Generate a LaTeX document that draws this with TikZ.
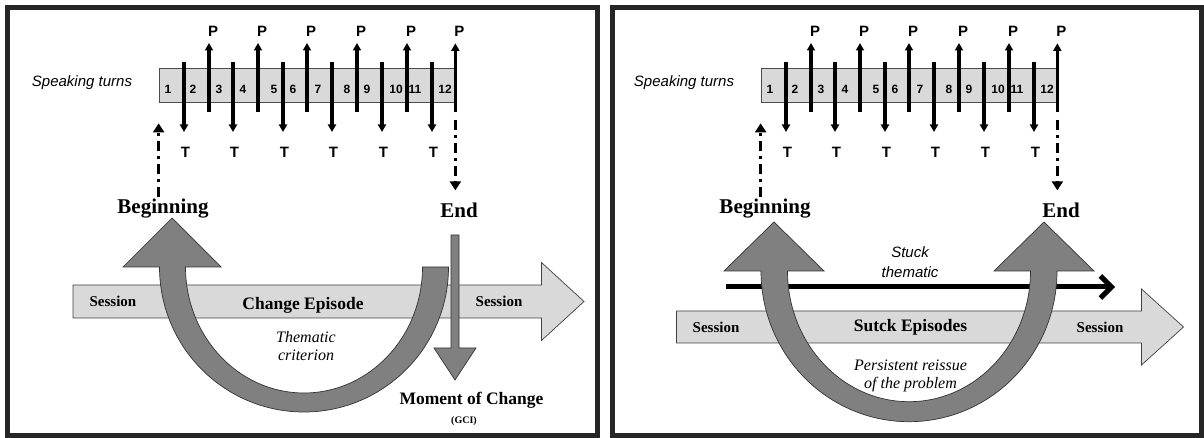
\documentclass[tikz,border=0pt]{standalone}
\usepackage{fontspec}
\setmainfont{Liberation Serif}
\setsansfont{Liberation Sans}
\usetikzlibrary{arrows.meta}
\tikzset{
  panel/.style={draw=black!85, line width=4.5pt},
  turnbar/.style={draw=black!70, fill=black!15, line width=0.7pt, minimum width=296pt, minimum height=34pt, inner sep=0pt},
  turnarrow/.style={line width=3.1pt, -{Triangle[length=7.5pt,width=8pt]}},
  cuearrow/.style={line width=3.2pt, dash pattern=on 10pt off 5pt on 3pt off 5pt, -{Triangle[length=9pt,width=11pt]}},
  sessionarrow/.style={draw=black!75, fill=black!15, line width=0.7pt},
  bigshape/.style={draw=black!80, fill=black!50, line width=0.7pt},
  stuckarrow/.style={line width=5pt, -{Straight Barb[length=11pt,width=22pt]}},
  numlabel/.style={font=\sffamily\bfseries\fontsize{12}{14}\selectfont},
  rolelabel/.style={font=\sffamily\bfseries\fontsize{15}{17}\selectfont},
  sanslabel/.style={font=\sffamily\itshape\fontsize{15}{20}\selectfont, align=center},
  marklabel/.style={font=\bfseries\fontsize{21}{23}\selectfont},
  sesslabel/.style={font=\bfseries\fontsize{15}{17}\selectfont},
  episodelabel/.style={font=\bfseries\fontsize{17.5}{19}\selectfont},
  notelabel/.style={font=\itshape\fontsize{16}{18}\selectfont, align=center},
}
\begin{document}
\begin{tikzpicture}[x=1pt,y=1pt]
\useasboundingbox (0,0) rectangle (1204,438);
\draw[panel] (7.5,2.5) rectangle (597.5,430.5);
\draw[panel] (612.5,2.5) rectangle (1201.5,430.5);
\foreach \dx/\s in {0/l,602/r}{
\begin{scope}[xshift=\dx]
\node[sanslabel] (speak\s) at (82,355) {Speaking turns};
\node[turnbar] (bar\s) at (307,353) {};
\foreach \n/\x in {1/168,2/193,3/219,4/243,5/274,6/293,7/318,8/347,9/367,10/396,11/415,12/445}
  \node[numlabel] (num\s\n) at (\x,349) {\n};
\foreach \x in {184,233,283,332,382,432}
  \draw[turnarrow] (\x,376)--(\x,306) node[rolelabel, below=10pt, xshift=1.5pt] (t\s\x) {T};
\foreach \x in {209,258,307,357,407}
  \draw[turnarrow] (\x,326)--(\x,395) node[rolelabel, above=1.5pt, xshift=4pt] (p\s\x) {P};
\draw[turnarrow] (bar\s.south east) ++(0,-10)--++(0,69) node[rolelabel, above=1.5pt, xshift=4pt] (plast\s) {P};
\draw[cuearrow] (bar\s.south west) ++(0,-95)--++(0,74);
\draw[cuearrow] (bar\s.south east) ++(0,-18)--++(0,-70);
\node[marklabel] (beg\s) at (163,229) {Beginning};
\node[marklabel] (end\s) at (459,228) {End};
\end{scope}
}
\draw[sessionarrow] (73,120)--(541.5,120)--(541.5,97.5)--(584,136.5)--(541.5,175.5)--(541.5,153)--(73,153)--cycle;
\draw[bigshape] (448.5,171) arc[start angle=0, end angle=-180, x radius=144.5, y radius=145]--(123,171)--(172,220)--(221,171)--(185.5,171) arc[start angle=180, end angle=360, x radius=118.5, y radius=126]--cycle;
\draw[bigshape] (451,203)--(459,203)--(459,90)--(476,90)--(455,58)--(434,90)--(451,90)--cycle;
\node[sesslabel] (sessla) at (113,137) {Session};
\node[episodelabel] (changeep) at (303,133) {Change Episode};
\node[sesslabel] (sesslb) at (499,137) {Session};
\node[notelabel] (thematic) at (306,92) {Thematic\\criterion};
\node[episodelabel] (moment) at (471.5,38) {Moment of Change};
\node[font=\bfseries\fontsize{10}{12}\selectfont] (gci) at (464,17) {(GCI)};
\draw[sessionarrow] (676.5,95)--(1141.5,95)--(1141.5,73)--(1183.5,111)--(1141.5,149)--(1141.5,127)--(676.5,127)--cycle;
\coordinate (stuckfrom) at (726,151);
\coordinate (stuckto) at (1115,151);
\draw[stuckarrow] (stuckfrom)--(stuckto);
\draw[bigshape] (761,167) arc[start angle=180, end angle=360, x radius=148, y radius=150.7]--(1094,167)--(1044,216)--(994,167)--(1030.5,167) arc[start angle=0, end angle=-180, x radius=121.5, y radius=130.7]--(824,167)--(774,216)--(724,167)--cycle;
\node[sesslabel] (sessra) at (716,111) {Session};
\node[episodelabel] (stuckep) at (910.5,111) {Sutck Episodes};
\node[sesslabel] (sessrb) at (1100,111) {Session};
\node[sanslabel] (stuck) at (910,176) {Stuck\\thematic};
\node[notelabel] (reissue) at (910.5,62) {Persistent reissue\\of the problem};
\end{tikzpicture}
\end{document}
